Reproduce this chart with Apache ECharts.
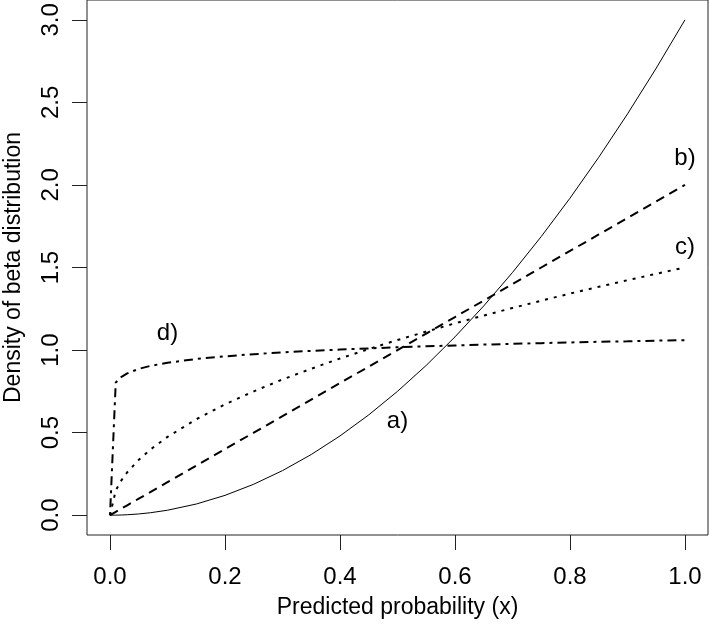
<!DOCTYPE html>
<html>
<head>
<meta charset="utf-8">
<script src="https://cdn.jsdelivr.net/npm/echarts@6/dist/echarts.min.js"></script>
<style>
html,body{margin:0;padding:0;background:#fff;}
#chart{width:709px;height:624px;}
</style>
</head>
<body>
<div id="chart"></div>
<script>
// x grid (predicted probability)
var xs = [0, 0.01, 0.02, 0.03, 0.05, 0.07, 0.1, 0.15, 0.2, 0.25, 0.3, 0.35, 0.4, 0.45, 0.5, 0.55, 0.6, 0.65, 0.7, 0.75, 0.8, 0.85, 0.9, 0.95, 1.0];
// a) solid curve
var curveA = [0, 0.0003, 0.0012, 0.0027, 0.0075, 0.0147, 0.03, 0.0675, 0.12, 0.1875, 0.27, 0.3675, 0.48, 0.6075, 0.75, 0.9075, 1.08, 1.2675, 1.47, 1.6875, 1.92, 2.1675, 2.43, 2.7075, 3.0];
// b) dashed line
var curveB = [0, 0.02, 0.04, 0.06, 0.1, 0.14, 0.2, 0.3, 0.4, 0.5, 0.6, 0.7, 0.8, 0.9, 1.0, 1.1, 1.2, 1.3, 1.4, 1.5, 1.6, 1.7, 1.8, 1.9, 2.0];
// c) dotted curve
var curveC = [0, 0.15, 0.212, 0.26, 0.335, 0.397, 0.474, 0.581, 0.671, 0.75, 0.822, 0.887, 0.949, 1.006, 1.061, 1.112, 1.162, 1.209, 1.255, 1.299, 1.342, 1.383, 1.423, 1.462, 1.5];
// d) dot-dash curve
var curveD = [0, 0.804, 0.838, 0.859, 0.886, 0.904, 0.923, 0.946, 0.962, 0.975, 0.986, 0.995, 1.003, 1.010, 1.017, 1.023, 1.028, 1.033, 1.038, 1.042, 1.046, 1.050, 1.053, 1.057, 1.06];
// tick labels
var xTicks = [0, 0.2, 0.4, 0.6, 0.8, 1.0];
var yTicks = [0, 0.5, 1.0, 1.5, 2.0, 2.5, 3.0];
// curve annotations
var annotations = [
  {x: 0.5, y: 0.57, text: 'a)'},
  {x: 1.0, y: 2.16, text: 'b)'},
  {x: 1.0, y: 1.62, text: 'c)'},
  {x: 0.1, y: 1.10, text: 'd)'}
];

function pairs(ys){ return xs.map(function(x,i){ return [x, ys[i]]; }); }

var FONT = 'Liberation Sans, Arial, Helvetica, sans-serif';
var chart = echarts.init(document.getElementById('chart'), null, {renderer:'canvas'});
var lineBase = function(data, width, type){
  return {
    type:'line', data: pairs(data), showSymbol:false, symbol:'none', smooth:false,
    animation:false, silent:true,
    lineStyle:{color:'#000', width:width, type:type, cap:'butt'}
  };
};
chart.setOption({
  backgroundColor:'#fff',
  animation:false,
  grid:{left:87, right:1, top:0, bottom:89, show:true, borderColor:'#222', borderWidth:1, backgroundColor:'transparent', outerBoundsMode:'none', containLabel:false},
  xAxis:{
    type:'value', min:-0.04, max:1.04,
    name:'Predicted probability (x)', nameLocation:'middle', nameGap:61,
    nameTextStyle:{fontFamily:FONT, fontSize:23, color:'#000'},
    splitLine:{show:false},
    axisLine:{show:false, onZero:false},
    axisTick:{show:true, inside:false, length:15, customValues:xTicks, lineStyle:{color:'#222', width:1}},
    axisLabel:{show:true, customValues:xTicks, margin:30, fontFamily:FONT, fontSize:24, color:'#000',
      formatter:function(v){ return v.toFixed(1); }}
  },
  yAxis:{
    type:'value', min:-0.12, max:3.12,
    name:'Density of beta distribution', nameLocation:'middle', nameGap:62,
    nameTextStyle:{fontFamily:FONT, fontSize:23, color:'#000'},
    splitLine:{show:false},
    axisLine:{show:false, onZero:false},
    axisTick:{show:true, inside:false, length:15, customValues:yTicks, lineStyle:{color:'#222', width:1}},
    axisLabel:{show:true, customValues:yTicks, rotate:90, margin:24, fontFamily:FONT, fontSize:24, color:'#000',
      formatter:function(v){ return v.toFixed(1); }}
  },
  series:[
    lineBase(curveA, 1, 'solid'),
    lineBase(curveB, 2, [9,6]),
    lineBase(curveC, 2, [3,6]),
    lineBase(curveD, 2, [3,5,9,5]),
    {
      type:'scatter', symbolSize:0, silent:true, animation:false,
      itemStyle:{color:'#000', opacity:1},
      data: annotations.map(function(a){ return {value:[a.x, a.y], name:a.text}; }),
      label:{show:true, position:'inside', formatter:function(p){ return p.name; },
        fontFamily:FONT, fontSize:24, color:'#000', opacity:1, textBorderWidth:0}
    }
  ]
});
</script>
</body>
</html>
